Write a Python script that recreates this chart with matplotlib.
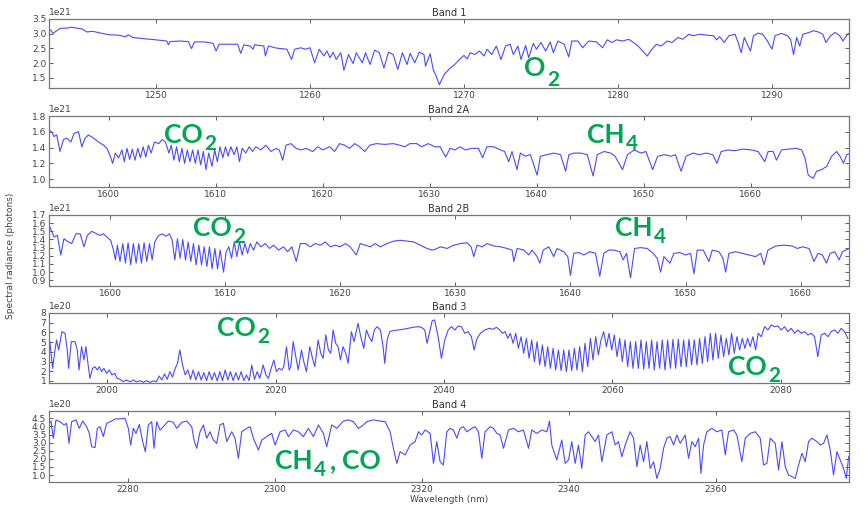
import numpy as np
import matplotlib
matplotlib.use('Agg')
import matplotlib.pyplot as plt
from matplotlib.ticker import MultipleLocator

# ---- spectra (radiance in units of the axis offset) ----
band1_wl = [1243.05, 1243.2, 1243.3, 1243.55, 1243.77, 1244.2, 1244.5, 1244.85, 1245.2, 1245.5,
            1245.9, 1246.4, 1247.0, 1247.6, 1248.0, 1248.2, 1248.5, 1249.2, 1250.0, 1250.7,
            1250.8, 1250.9, 1251.6, 1252.1, 1252.3, 1252.5, 1253.1, 1253.7, 1253.9, 1254.1,
            1254.8, 1255.3, 1255.5, 1255.7, 1256.1, 1256.3, 1256.4, 1257.0, 1257.1, 1257.3,
            1257.8, 1258.5, 1258.8, 1259.0, 1259.4, 1259.7, 1260.0, 1260.3, 1260.6, 1260.9,
            1261.1, 1261.3, 1261.5, 1261.7, 1262.0, 1262.2, 1262.5, 1262.8, 1263.0, 1263.4,
            1263.6, 1263.9, 1264.2, 1264.5, 1264.8, 1265.1, 1265.4, 1265.7, 1266.0, 1266.3,
            1266.5, 1266.8, 1267.1, 1267.4, 1267.5, 1267.8, 1268.0, 1268.2, 1268.4, 1268.7,
            1268.9, 1269.1, 1269.4, 1269.7, 1270.0, 1270.2, 1270.4, 1270.7, 1271.0, 1271.3,
            1271.5, 1271.8, 1272.1, 1272.4, 1272.7, 1273.0, 1273.2, 1273.5, 1273.7, 1274.0,
            1274.2, 1274.5, 1274.7, 1275.0, 1275.3, 1275.6, 1275.8, 1276.1, 1276.5, 1276.8,
            1277.0, 1277.4, 1277.7, 1278.1, 1278.6, 1279.0, 1279.3, 1279.6, 1279.9, 1280.3,
            1280.7, 1281.0, 1281.3, 1281.6, 1281.9, 1282.2, 1282.5, 1282.8, 1283.2, 1283.5,
            1283.9, 1284.2, 1284.6, 1284.9, 1285.3, 1285.8, 1286.2, 1286.4, 1286.6, 1286.9,
            1287.2, 1287.6, 1287.8, 1288.0, 1288.2, 1288.6, 1288.8, 1289.1, 1289.4, 1289.7,
            1290.0, 1290.2, 1290.6, 1291.0, 1291.2, 1291.4, 1291.6, 1291.8, 1292.0, 1292.4,
            1292.7, 1293.0, 1293.3, 1293.5, 1293.8, 1294.1, 1294.4, 1294.6, 1294.95]
band1_rad = [3.16, 3.10, 3.01, 3.10, 3.18, 3.19, 3.22, 3.19, 3.16, 3.06,
             3.08, 3.02, 2.96, 2.95, 2.89, 2.96, 2.87, 2.83, 2.79, 2.75,
             2.62, 2.73, 2.75, 2.73, 2.49, 2.72, 2.72, 2.67, 2.41, 2.64,
             2.64, 2.64, 2.33, 2.62, 2.58, 2.47, 2.62, 2.58, 2.24, 2.58,
             2.51, 2.47, 2.12, 2.47, 2.52, 2.47, 2.52, 2.01, 2.47, 2.24,
             2.41, 2.18, 2.37, 2.12, 2.35, 1.75, 2.29, 1.98, 2.35, 2.01,
             2.35, 1.95, 2.44, 2.35, 1.83, 2.37, 2.29, 1.78, 2.35, 1.95,
             2.33, 2.01, 2.37, 2.29, 1.89, 2.32, 1.78, 1.55, 1.26, 1.60,
             1.72, 1.83, 1.95, 2.12, 2.26, 2.14, 2.35, 2.29, 2.41, 2.24,
             2.47, 2.29, 2.58, 2.12, 2.58, 2.64, 2.29, 2.58, 2.12, 2.60,
             2.18, 2.67, 2.47, 2.70, 2.41, 2.72, 2.35, 2.75, 2.64, 2.21,
             2.75, 2.75, 2.52, 2.75, 2.72, 2.52, 2.79, 2.70, 2.79, 2.75,
             2.81, 2.70, 2.58, 2.41, 2.24, 2.47, 2.64, 2.58, 2.75, 2.70,
             2.87, 2.81, 2.98, 2.93, 2.98, 2.95, 2.93, 2.79, 2.90, 2.70,
             2.93, 2.98, 2.70, 2.35, 2.87, 2.41, 2.93, 3.02, 2.98, 2.75,
             2.47, 2.93, 3.01, 2.93, 2.81, 2.29, 2.87, 2.58, 2.98, 3.04,
             3.10, 3.06, 2.98, 2.70, 2.93, 3.04, 2.93, 2.75, 3.01]

band2a_wl = [1594.4, 1594.65, 1594.87, 1595.12, 1595.43, 1595.75, 1596.06, 1596.44, 1596.75, 1597.16,
             1597.47, 1597.78, 1598.09, 1598.56, 1599.03, 1599.5, 1599.82, 1600.13, 1600.35, 1600.6,
             1600.91, 1601.22, 1601.44, 1601.69, 1601.94, 1602.19, 1602.44, 1602.7, 1602.95, 1603.2,
             1603.45, 1603.7, 1603.95, 1604.26, 1604.67, 1604.98, 1605.29, 1605.61, 1605.83, 1606.08,
             1606.33, 1606.58, 1606.83, 1607.08, 1607.33, 1607.58, 1607.83, 1608.08, 1608.33, 1608.58,
             1608.83, 1609.08, 1609.33, 1609.64, 1609.89, 1610.14, 1610.39, 1610.65, 1610.9, 1611.15,
             1611.4, 1611.71, 1611.96, 1612.21, 1612.46, 1612.8, 1613.12, 1613.43, 1613.74, 1614.21,
             1614.68, 1615.15, 1615.62, 1615.93, 1616.25, 1616.56, 1617.03, 1617.5, 1617.97, 1618.44,
             1619.06, 1619.53, 1620.0, 1620.63, 1621.1, 1621.57, 1622.04, 1622.51, 1622.98, 1623.45,
             1623.92, 1624.39, 1625.01, 1625.79, 1626.58, 1627.2, 1627.67, 1628.14, 1628.77, 1629.24,
             1629.86, 1630.49, 1630.96, 1631.49, 1631.9, 1632.37, 1632.84, 1633.31, 1633.94, 1634.56,
             1634.94, 1635.34, 1635.97, 1636.6, 1637.0, 1637.38, 1637.69, 1638.16, 1638.47, 1638.94,
             1639.41, 1640.04, 1640.35, 1640.98, 1641.6, 1642.23, 1642.7, 1643.01, 1643.48, 1644.11,
             1644.73, 1645.27, 1645.67, 1646.3, 1646.92, 1647.33, 1648.02, 1648.49, 1649.12, 1649.74,
             1650.21, 1650.84, 1651.31, 1651.93, 1652.56, 1652.97, 1653.5, 1653.97, 1654.59, 1655.22,
             1655.85, 1656.47, 1656.85, 1657.25, 1657.88, 1658.51, 1659.29, 1660.07, 1660.7, 1661.32,
             1661.64, 1662.11, 1662.42, 1662.89, 1663.51, 1664.3, 1664.77, 1665.08, 1665.39, 1665.86,
             1666.17, 1666.64, 1667.11, 1667.58, 1668.05, 1668.36, 1668.68, 1668.99, 1669.46]
band2a_rad = [1.62, 1.60, 1.54, 1.56, 1.35, 1.50, 1.52, 1.47, 1.58, 1.60,
              1.41, 1.52, 1.56, 1.52, 1.47, 1.43, 1.39, 1.29, 1.20, 1.33,
              1.27, 1.37, 1.22, 1.39, 1.25, 1.38, 1.24, 1.39, 1.27, 1.41,
              1.28, 1.43, 1.33, 1.47, 1.45, 1.50, 1.47, 1.33, 1.43, 1.24,
              1.41, 1.22, 1.39, 1.20, 1.37, 1.22, 1.37, 1.20, 1.37, 1.18,
              1.35, 1.12, 1.33, 1.16, 1.37, 1.22, 1.41, 1.27, 1.41, 1.29,
              1.41, 1.31, 1.41, 1.22, 1.39, 1.33, 1.41, 1.35, 1.41, 1.37,
              1.43, 1.35, 1.39, 1.37, 1.24, 1.43, 1.45, 1.39, 1.37, 1.39,
              1.35, 1.41, 1.37, 1.41, 1.35, 1.45, 1.43, 1.39, 1.45, 1.41,
              1.35, 1.43, 1.45, 1.44, 1.45, 1.43, 1.41, 1.45, 1.45, 1.41,
              1.45, 1.41, 1.41, 1.28, 1.39, 1.37, 1.41, 1.37, 1.39, 1.39,
              1.27, 1.41, 1.41, 1.37, 1.35, 1.22, 1.35, 1.12, 1.33, 1.29,
              1.31, 1.05, 1.29, 1.31, 1.33, 1.31, 1.10, 1.31, 1.33, 1.33,
              1.31, 1.04, 1.31, 1.35, 1.33, 1.29, 1.12, 1.31, 1.37, 1.33,
              1.35, 1.12, 1.29, 1.31, 1.29, 1.31, 1.10, 1.29, 1.33, 1.31,
              1.33, 1.31, 1.20, 1.35, 1.37, 1.36, 1.38, 1.37, 1.35, 1.22,
              1.35, 1.35, 1.24, 1.37, 1.38, 1.39, 1.37, 1.27, 1.05, 1.01,
              1.10, 1.12, 1.16, 1.29, 1.35, 1.29, 1.20, 1.31, 1.33]

band2b_wl = [1594.7, 1594.93, 1595.14, 1595.43, 1595.72, 1596.0, 1596.38, 1596.67, 1597.05, 1597.4,
             1597.74, 1598.03, 1598.41, 1598.85, 1599.13, 1599.43, 1599.72, 1600.06, 1600.3, 1600.47,
             1600.64, 1600.87, 1601.11, 1601.34, 1601.57, 1601.8, 1602.03, 1602.27, 1602.5, 1602.73,
             1602.96, 1603.19, 1603.43, 1603.66, 1603.89, 1604.18, 1604.5, 1604.87, 1605.16, 1605.4,
             1605.63, 1605.86, 1606.09, 1606.32, 1606.56, 1606.79, 1607.02, 1607.25, 1607.48, 1607.72,
             1607.95, 1608.18, 1608.41, 1608.64, 1608.87, 1609.11, 1609.34, 1609.57, 1609.86, 1610.09,
             1610.32, 1610.56, 1610.79, 1611.02, 1611.25, 1611.48, 1611.72, 1611.95, 1612.18, 1612.47,
             1612.76, 1613.11, 1613.48, 1613.86, 1614.21, 1614.64, 1615.08, 1615.43, 1615.8, 1616.18,
             1616.53, 1616.96, 1617.4, 1617.83, 1618.27, 1618.7, 1619.14, 1619.57, 1620.0, 1620.44,
             1620.87, 1621.4, 1621.74, 1622.18, 1622.61, 1623.05, 1623.48, 1624.06, 1624.64, 1625.22,
             1625.8, 1626.38, 1626.96, 1627.54, 1627.98, 1628.26, 1628.7, 1629.28, 1629.86, 1630.44,
             1631.02, 1631.37, 1631.6, 1631.89, 1632.32, 1632.76, 1633.34, 1633.92, 1634.5, 1634.93,
             1635.08, 1635.37, 1635.95, 1636.38, 1636.67, 1637.1, 1637.34, 1637.63, 1638.12, 1638.55,
             1638.84, 1639.42, 1639.77, 1640.0, 1640.29, 1640.73, 1641.16, 1641.68, 1642.18, 1642.55,
             1642.9, 1643.34, 1643.77, 1644.29, 1644.58, 1644.87, 1645.22, 1645.57, 1646.09, 1646.67,
             1647.19, 1647.54, 1647.83, 1648.12, 1648.64, 1648.99, 1649.51, 1650.0, 1650.44, 1650.73,
             1651.02, 1651.54, 1652.03, 1652.32, 1652.9, 1653.25, 1653.48, 1653.77, 1654.35, 1654.93,
             1655.51, 1656.09, 1656.53, 1656.82, 1657.16, 1657.83, 1658.55, 1659.28, 1659.71, 1660.15,
             1660.73, 1661.16, 1661.51, 1661.89, 1662.24, 1662.56, 1662.96, 1663.34, 1663.63, 1664.21]
band2b_rad = [1.58, 1.50, 1.43, 1.45, 1.21, 1.41, 1.37, 1.35, 1.47, 1.47,
              1.31, 1.45, 1.50, 1.47, 1.45, 1.47, 1.43, 1.39, 1.27, 1.15,
              1.33, 1.13, 1.35, 1.11, 1.36, 1.09, 1.35, 1.11, 1.35, 1.11,
              1.36, 1.13, 1.35, 1.15, 1.37, 1.44, 1.47, 1.44, 1.47, 1.39,
              1.15, 1.41, 1.17, 1.40, 1.15, 1.37, 1.13, 1.35, 1.09, 1.33,
              1.09, 1.31, 1.07, 1.31, 1.04, 1.29, 1.04, 1.27, 1.00, 1.25,
              1.31, 1.17, 1.37, 1.19, 1.37, 1.21, 1.35, 1.23, 1.35, 1.27,
              1.37, 1.31, 1.35, 1.29, 1.33, 1.27, 1.31, 1.25, 1.31, 1.13,
              1.35, 1.35, 1.31, 1.35, 1.33, 1.37, 1.31, 1.33, 1.31, 1.35,
              1.31, 1.21, 1.35, 1.33, 1.31, 1.35, 1.31, 1.35, 1.38, 1.39,
              1.38, 1.37, 1.33, 1.29, 1.27, 1.28, 1.31, 1.29, 1.33, 1.35,
              1.36, 1.31, 1.19, 1.33, 1.31, 1.35, 1.32, 1.31, 1.29, 1.27,
              1.13, 1.29, 1.27, 1.21, 1.27, 1.19, 1.11, 1.27, 1.31, 1.19,
              1.29, 1.25, 1.19, 0.96, 1.23, 1.24, 1.21, 1.25, 1.23, 0.95,
              1.23, 1.27, 1.27, 1.25, 1.15, 1.23, 0.93, 1.29, 1.30, 1.29,
              1.23, 1.17, 1.00, 1.19, 1.11, 1.23, 1.24, 1.21, 1.23, 0.98,
              1.27, 1.27, 1.13, 1.27, 1.25, 1.17, 1.00, 1.23, 1.25, 1.23,
              1.21, 1.19, 1.23, 1.09, 1.27, 1.32, 1.33, 1.32, 1.29, 1.31,
              1.29, 1.13, 1.23, 1.21, 1.11, 1.23, 1.25, 1.15, 1.25, 1.29]

band3_wl = [1993.21, 1993.53, 1993.81, 1994.0, 1994.24, 1994.64, 1995.0, 1995.27, 1995.43, 1995.75,
            1996.18, 1996.46, 1996.66, 1996.97, 1997.25, 1997.49, 1997.72, 1997.96, 1998.28, 1998.55,
            1998.83, 1999.07, 1999.34, 1999.62, 1999.94, 2000.26, 2000.57, 2000.89, 2001.2, 2001.52,
            2001.92, 2002.31, 2002.71, 2003.1, 2003.5, 2003.89, 2004.29, 2004.69, 2005.08, 2005.48,
            2005.87, 2006.19, 2006.5, 2006.82, 2007.14, 2007.45, 2007.77, 2008.09, 2008.36, 2008.64,
            2008.96, 2009.27, 2009.59, 2009.91, 2010.22, 2010.54, 2010.86, 2011.17, 2011.49, 2011.81,
            2012.12, 2012.44, 2012.75, 2013.07, 2013.39, 2013.7, 2014.02, 2014.34, 2014.65, 2014.97,
            2015.29, 2015.6, 2015.92, 2016.24, 2016.55, 2016.87, 2017.18, 2017.5, 2017.82, 2018.13,
            2018.53, 2018.85, 2019.16, 2019.48, 2019.8, 2020.11, 2020.43, 2020.75, 2020.98, 2021.3,
            2021.62, 2021.81, 2022.09, 2022.41, 2022.69, 2023.08, 2023.36, 2023.67, 2024.07, 2024.39,
            2024.66, 2025.06, 2025.37, 2025.65, 2025.97, 2026.28, 2026.56, 2026.84, 2027.15, 2027.43,
            2027.71, 2028.02, 2028.34, 2028.62, 2029.01, 2029.33, 2029.8, 2030.12, 2030.48, 2030.79,
            2031.11, 2031.43, 2031.74, 2032.06, 2032.46, 2032.77, 2032.97, 2033.25, 2033.56, 2033.96,
            2034.55, 2035.14, 2035.74, 2036.33, 2036.93, 2037.32, 2037.72, 2038.0, 2038.39, 2038.6,
            2038.9, 2039.31, 2039.7, 2040.1, 2040.5, 2040.89, 2041.29, 2041.68, 2042.08, 2042.47,
            2042.87, 2043.26, 2043.58, 2043.94, 2044.33, 2044.85, 2045.36, 2045.84, 2046.23, 2046.63,
            2046.94, 2047.26, 2047.58, 2047.89, 2048.21, 2048.53, 2048.84, 2049.16, 2049.47, 2049.79,
            2050.11, 2050.42, 2050.74, 2051.06, 2051.37, 2051.69, 2052.01, 2052.32, 2052.64, 2052.96,
            2053.27, 2053.59, 2053.91, 2054.22, 2054.54, 2054.85, 2055.17, 2055.49, 2055.8, 2056.12,
            2056.44, 2056.75, 2057.07, 2057.39, 2057.7, 2058.02, 2058.34, 2058.65, 2058.97, 2059.29,
            2059.6, 2059.92, 2060.23, 2060.55, 2060.87, 2061.18, 2061.5, 2061.82, 2062.13, 2062.45,
            2062.77, 2063.08, 2063.4, 2063.72, 2064.03, 2064.35, 2064.66, 2064.98, 2065.3, 2065.61,
            2065.93, 2066.25, 2066.56, 2066.88, 2067.2, 2067.51, 2067.83, 2068.15, 2068.46, 2068.78,
            2069.1, 2069.41, 2069.73, 2070.05, 2070.36, 2070.68, 2071.0, 2071.31, 2071.63, 2071.94,
            2072.26, 2072.58, 2072.89, 2073.21, 2073.53, 2073.84, 2074.16, 2074.48, 2074.79, 2075.11,
            2075.43, 2075.74, 2076.06, 2076.37, 2076.69, 2077.01, 2077.32, 2077.68, 2078.08, 2078.47,
            2078.87, 2079.26, 2079.66, 2080.05, 2080.45, 2080.84, 2081.24, 2081.64, 2082.03, 2082.43,
            2082.82, 2083.22, 2083.61, 2084.01, 2084.4, 2084.8, 2085.2, 2085.59, 2085.99, 2086.38,
            2086.78, 2087.17, 2087.57, 2087.96]
band3_rad = [5.05, 2.30, 4.19, 5.22, 4.19, 6.08, 5.91, 4.19, 2.30, 5.05,
             5.05, 4.19, 2.13, 4.53, 3.16, 4.53, 2.82, 1.27, 2.30, 2.47,
             2.13, 2.47, 1.96, 2.30, 1.79, 2.13, 1.62, 1.79, 1.27, 1.17,
             0.93, 1.10, 0.90, 1.10, 0.90, 1.03, 0.86, 1.03, 0.86, 1.00,
             0.93, 1.51, 1.10, 1.72, 1.17, 1.96, 1.38, 2.30, 2.82, 4.19,
             2.65, 1.62, 2.13, 1.17, 2.13, 1.10, 1.96, 1.10, 1.86, 1.03,
             1.96, 1.10, 1.86, 1.00, 1.96, 1.03, 2.13, 1.10, 1.96, 1.03,
             1.86, 1.10, 1.96, 1.03, 1.62, 1.03, 2.65, 1.17, 1.96, 1.27,
             2.65, 1.62, 1.27, 2.30, 3.16, 1.96, 2.30, 2.13, 2.47, 4.53,
             2.13, 2.47, 5.05, 3.50, 2.13, 4.19, 2.99, 1.96, 4.53, 3.33,
             2.47, 5.22, 3.85, 3.33, 5.74, 4.19, 3.85, 6.25, 4.88, 4.53,
             3.16, 4.53, 3.85, 2.82, 6.08, 5.05, 6.94, 5.56, 4.36, 6.25,
             5.56, 5.05, 6.25, 6.59, 6.25, 4.53, 2.82, 5.22, 6.08, 6.18,
             6.25, 6.32, 6.42, 6.53, 6.59, 6.53, 6.25, 4.88, 6.42, 7.20,
             7.28, 5.56, 3.33, 5.22, 6.25, 6.59, 6.25, 6.66, 6.59, 5.91,
             6.08, 5.56, 4.19, 5.39, 5.91, 6.25, 6.42, 6.32, 6.53, 6.25,
             5.91, 6.08, 5.39, 5.91, 4.88, 5.91, 4.36, 5.56, 3.85, 5.39,
             3.33, 5.22, 2.99, 5.05, 2.65, 4.71, 2.47, 4.53, 2.30, 4.36,
             2.13, 4.19, 2.06, 4.19, 1.96, 4.19, 2.06, 4.36, 2.13, 4.53,
             1.96, 4.88, 2.47, 5.39, 3.16, 5.56, 3.68, 5.22, 6.08, 4.53,
             5.91, 4.19, 5.74, 3.50, 5.39, 2.99, 5.22, 2.47, 5.05, 2.30,
             5.05, 2.30, 5.22, 2.20, 5.05, 2.30, 5.22, 2.13, 5.05, 2.30,
             5.22, 2.13, 5.22, 2.30, 5.29, 2.30, 5.29, 2.47, 5.22, 2.47,
             5.29, 2.65, 5.22, 2.65, 5.39, 2.82, 5.56, 2.99, 5.91, 3.16,
             5.91, 3.33, 5.74, 3.50, 5.39, 3.68, 5.91, 3.85, 5.56, 4.19,
             5.39, 4.36, 5.39, 4.53, 5.56, 4.19, 5.91, 5.56, 6.59, 6.25,
             6.77, 6.59, 6.66, 6.25, 6.59, 6.08, 6.42, 5.91, 6.25, 5.91,
             6.08, 5.74, 5.91, 5.56, 3.50, 5.74, 5.91, 5.56, 6.08, 6.25,
             5.91, 6.42, 6.08, 5.39]

band4_wl = [2269.3, 2269.57, 2269.89, 2270.25, 2270.79, 2271.34, 2271.7, 2272.02, 2272.38, 2272.97,
            2273.42, 2273.88, 2274.42, 2274.78, 2275.1, 2275.56, 2275.87, 2276.24, 2276.69, 2277.14,
            2277.82, 2278.28, 2278.96, 2279.64, 2280.09, 2280.41, 2280.77, 2281.13, 2281.59, 2282.04,
            2282.4, 2282.81, 2283.27, 2283.58, 2283.95, 2284.4, 2284.85, 2285.53, 2286.21, 2286.67,
            2287.35, 2288.03, 2288.71, 2289.02, 2289.39, 2289.84, 2290.3, 2290.75, 2291.2, 2291.65,
            2292.11, 2292.56, 2293.02, 2293.47, 2294.15, 2294.6, 2295.06, 2295.51, 2296.19, 2296.64,
            2297.1, 2297.78, 2298.23, 2298.91, 2299.59, 2300.05, 2300.73, 2301.41, 2301.86, 2302.54,
            2303.22, 2303.9, 2304.58, 2305.26, 2305.94, 2306.62, 2307.07, 2307.75, 2308.44, 2309.34,
            2310.02, 2310.7, 2311.38, 2312.06, 2312.52, 2313.42, 2314.33, 2315.01, 2315.69, 2316.14,
            2316.6, 2317.05, 2317.73, 2318.41, 2319.09, 2319.55, 2320.0, 2320.45, 2321.14, 2321.59,
            2322.04, 2322.49, 2322.94, 2323.4, 2323.85, 2324.3, 2324.76, 2325.21, 2325.66, 2326.12,
            2326.8, 2327.25, 2327.71, 2328.16, 2328.61, 2329.29, 2329.75, 2330.2, 2330.65, 2331.11,
            2331.79, 2332.47, 2333.15, 2333.83, 2334.51, 2334.96, 2335.64, 2336.32, 2337.0, 2337.37,
            2337.68, 2338.36, 2339.04, 2339.5, 2339.95, 2340.4, 2340.86, 2341.31, 2341.76, 2342.22,
            2342.67, 2343.12, 2343.58, 2344.03, 2344.49, 2345.17, 2345.85, 2346.3, 2346.75, 2347.21,
            2347.66, 2348.34, 2348.8, 2349.25, 2349.7, 2350.16, 2350.61, 2351.06, 2351.52, 2351.97,
            2352.42, 2352.88, 2353.33, 2353.78, 2354.24, 2354.69, 2355.14, 2355.82, 2356.28, 2356.73,
            2357.19, 2357.64, 2357.96, 2358.32, 2358.77, 2359.45, 2360.13, 2360.81, 2361.27, 2361.72,
            2362.4, 2362.85, 2363.53, 2363.99, 2364.67, 2365.35, 2366.03, 2366.48, 2366.93, 2367.39,
            2368.07, 2368.52, 2368.98, 2369.43, 2369.88, 2370.34, 2370.79, 2371.24, 2371.7, 2372.15,
            2372.6, 2373.06, 2373.74, 2374.19, 2374.64, 2375.1, 2375.55, 2376.0, 2376.46, 2376.91,
            2377.36, 2377.73, 2378.05]
band4_rad = [4.19, 4.33, 3.27, 4.40, 4.29, 4.09, 4.19, 2.95, 4.29, 4.40,
             3.88, 4.33, 3.98, 3.57, 2.75, 2.69, 3.88, 3.98, 3.37, 4.19,
             4.33, 4.46, 4.46, 4.50, 3.88, 2.85, 3.88, 3.57, 4.13, 3.06,
             2.44, 4.09, 4.29, 2.65, 4.29, 3.78, 3.98, 4.33, 4.25, 3.88,
             4.25, 4.33, 3.98, 3.16, 2.65, 3.67, 4.09, 3.27, 3.67, 3.16,
             2.95, 4.09, 4.19, 3.06, 3.67, 3.27, 2.03, 3.67, 3.88, 3.98,
             3.27, 2.54, 3.16, 3.37, 3.57, 2.85, 3.67, 3.78, 3.37, 3.78,
             3.67, 3.37, 3.88, 3.37, 4.09, 3.57, 2.75, 4.09, 3.88, 4.33,
             4.40, 4.29, 3.88, 4.09, 4.29, 4.40, 4.33, 4.29, 3.67, 2.65,
             1.72, 2.44, 2.24, 2.85, 3.06, 3.67, 3.47, 3.78, 3.57, 1.72,
             3.06, 1.82, 1.62, 3.67, 3.88, 3.78, 3.27, 3.88, 3.98, 3.67,
             3.88, 3.98, 3.67, 2.03, 3.67, 3.98, 3.88, 3.57, 3.47, 2.65,
             3.78, 3.88, 3.67, 3.78, 2.65, 3.78, 3.57, 3.78, 3.67, 4.33,
             2.85, 1.93, 3.16, 1.72, 1.93, 3.06, 1.72, 2.85, 1.41, 3.47,
             3.67, 3.37, 3.06, 3.47, 1.82, 3.47, 3.67, 2.85, 3.06, 2.13,
             2.85, 3.67, 3.27, 1.51, 2.85, 1.82, 3.06, 1.41, 1.82, 0.79,
             1.41, 2.65, 3.27, 3.37, 2.85, 3.47, 2.95, 3.47, 2.03, 3.06,
             2.75, 3.27, 1.10, 2.85, 3.67, 3.88, 3.67, 3.78, 2.24, 3.67,
             3.78, 3.47, 1.82, 3.27, 3.57, 3.67, 3.27, 1.62, 1.72, 3.27,
             2.95, 1.31, 3.06, 1.51, 1.00, 0.90, 0.79, 1.62, 2.34, 1.82,
             3.06, 3.27, 3.06, 2.85, 2.95, 3.47, 2.54, 1.00, 2.44, 1.93,
             1.41, 0.79, 2.13]

band_titles = ['Band 1', 'Band 2A', 'Band 2B', 'Band 3', 'Band 4']
band_scale = [1e21, 1e21, 1e21, 1e20, 1e20]

# ---- layout (pixel boxes taken from the 866x512 reference) ----
W, H = 866, 512
LEFT, RIGHT = 49, 849
boxes = [(19, 88), (116, 187), (215, 286), (313, 383), (411, 482)]
xlims = [(1243.05, 1295.0), (1594.4, 1669.2), (1594.7, 1664.2), (1993.1, 2088.1), (2269.3, 2378.1)]
ylims = [(1.15, 3.5), (0.9, 1.8), (0.83, 1.7), (0.79, 8.0), (0.57, 4.95)]
xsteps = [10, 10, 10, 20, 20]
ysteps = [0.5, 0.2, 0.1, 1, 0.5]

fig = plt.figure(figsize=(W / 100, H / 100), dpi=100)
fig.patch.set_facecolor('white')

data = [(band1_wl, band1_rad), (band2a_wl, band2a_rad), (band2b_wl, band2b_rad),
        (band3_wl, band3_rad), (band4_wl, band4_rad)]

for i, (wl, rad) in enumerate(data):
    top, bot = boxes[i]
    ax = fig.add_axes([LEFT / W, 1 - bot / H, (RIGHT - LEFT) / W, (bot - top) / H])
    ax.plot(wl, np.array(rad) * band_scale[i], color='#4a4aff', lw=0.8)
    ax.set_xlim(*xlims[i])
    ax.set_ylim(ylims[i][0] * band_scale[i], ylims[i][1] * band_scale[i])
    ax.xaxis.set_major_locator(MultipleLocator(xsteps[i]))
    ax.yaxis.set_major_locator(MultipleLocator(ysteps[i] * band_scale[i]))
    ax.tick_params(direction='in', top=True, right=True, length=3, width=0.6,
                   labelsize=6.5, colors='#444444', pad=2)
    ax.yaxis.get_offset_text().set_fontsize(6.5)
    ax.yaxis.get_offset_text().set_color('#444444')
    for sp in ax.spines.values():
        sp.set_color('#777777')
        sp.set_linewidth(0.9)
    ax.set_title(band_titles[i], fontsize=7, color='#333333', pad=2.5)
    if i == 4:
        ax.set_xlabel('Wavelength (nm)', fontsize=6.5, color='#444444', labelpad=1)

fig.text(11 / W, 0.5, 'Spectral radiance (photons)', rotation=90, fontsize=6.5,
         color='#444444', ha='center', va='center')

# ---- green gas labels: main text, then a subscript right after it ----
green = '#00a651'
gas_font = dict(color=green, fontweight='bold', family=['Lato', 'DejaVu Sans'])
renderer = fig.canvas.get_renderer()


def put(s, x, y, size):
    t = fig.text(x / W, 1 - y / H, s, fontsize=size, ha='left', va='baseline', **gas_font)
    return t.get_window_extent(renderer=renderer).x1


labels = [('O', 524, 76, '2', 86),
          ('CO', 164, 143, '2', 150),
          ('CH', 587, 143, '4', 150),
          ('CO', 193, 236, '2', 243),
          ('CH', 615, 236, '4', 243),
          ('CO', 217, 336, '2', 343),
          ('CO', 728, 375, '2', 382),
          ('CH', 275, 469, '4', 476)]
sub_end = 0
for main, mx, my, sub, sy in labels:
    right = put(main, mx, my, 19)
    sub_end = put(sub, right + 1.5, sy, 15)
# the last label continues as "CH4 , CO"
comma_end = put(',', sub_end + 4, 469, 19)
put('CO', comma_end + 6, 469, 19)

fig.savefig('out.png', dpi=100, facecolor='white')
